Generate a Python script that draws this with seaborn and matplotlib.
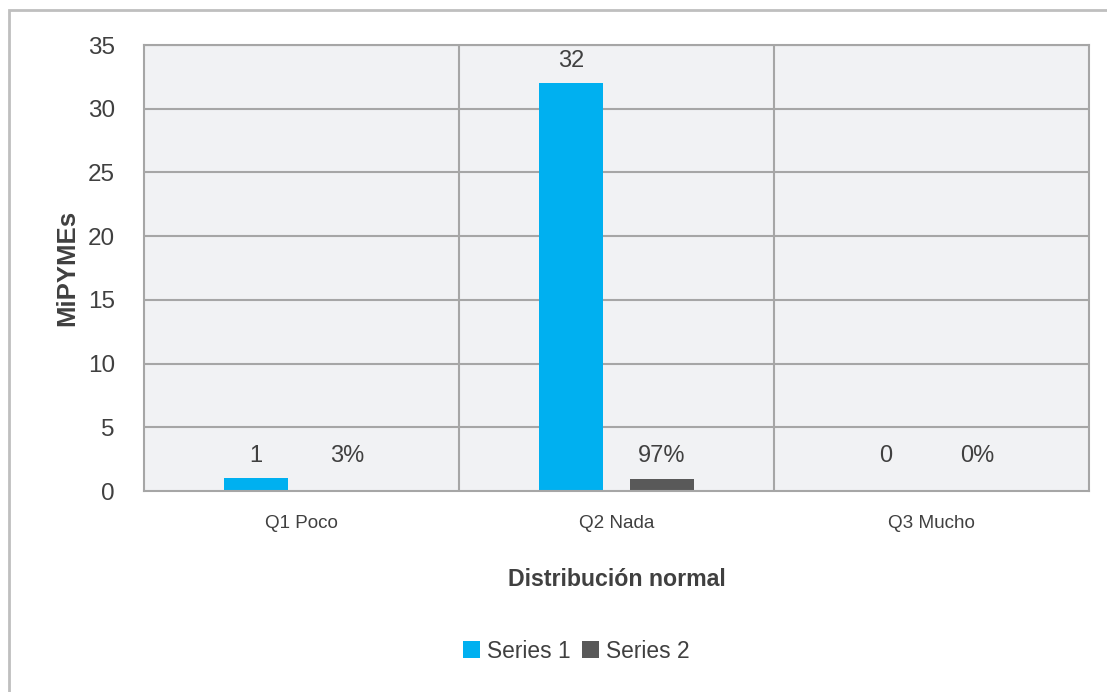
import matplotlib
matplotlib.use("Agg")
import matplotlib.pyplot as plt
from matplotlib.patches import Rectangle
import seaborn as sns
import pandas as pd

categories = ["Q1 Poco", "Q2 Nada", "Q3 Mucho"]
series_names = ["Series 1", "Series 2"]
series1 = [1, 32, 0]
series2 = [0.03, 0.97, 0]
label1 = ["1", "32", "0"]
label2 = ["3%", "97%", "0%"]

df = pd.DataFrame({
    "cat": categories * 2,
    "serie": [series_names[0]] * 3 + [series_names[1]] * 3,
    "val": series1 + series2,
    "lab": label1 + label2,
})

sns.set_theme(style="white")
plt.rcParams["font.family"] = ["Liberation Sans", "DejaVu Sans"]
text_col = "#404040"
grid_col = "#A6A6A6"

fig = plt.figure(figsize=(11.07, 6.92), dpi=100)
ax = fig.add_axes([144 / 1107, 1 - 491 / 692, (1089 - 144) / 1107, (491 - 45) / 692])
ax.set_facecolor("#F1F2F4")

palette = {"Series 1": "#00B0F0", "Series 2": "#595959"}
sns.barplot(data=df, x="cat", y="val", hue="serie", order=categories,
            hue_order=series_names, palette=palette, width=0.578, gap=0.30,
            saturation=1, ax=ax, legend=True, linewidth=0)

# value labels above each bar
for cont, labs in zip(ax.containers, [label1, label2]):
    for rect, lab in zip(cont, labs):
        x = rect.get_x() + rect.get_width() / 2
        h = max(rect.get_height(), 1)
        ax.annotate(lab, (x, h), xytext=(0, 16), textcoords="offset points",
                    ha="center", va="center", fontsize=17, color=text_col)

ax.set_ylim(0, 35)
ax.set_xlim(-0.5, 2.5)
ax.set_yticks(range(0, 36, 5))
ax.grid(False)
for y in range(5, 36, 5):
    ax.axhline(y, color=grid_col, lw=1.5, zorder=0)
for x in [0.5, 1.5]:
    ax.axvline(x, color=grid_col, lw=1.5, zorder=0)
for s in ax.spines.values():
    s.set_color(grid_col)
    s.set_linewidth(1.5)

ax.tick_params(axis="y", length=0, pad=21, labelsize=17.5, labelcolor=text_col)
ax.tick_params(axis="x", length=0, pad=17, labelsize=13.6, labelcolor=text_col)

ax.set_xlabel("Distribución normal", fontsize=16.7, fontweight="bold",
              color=text_col, labelpad=26)
ax.set_ylabel("MiPYMEs", fontsize=18.5, fontweight="bold", color=text_col,
              labelpad=6)

leg = ax.legend(loc="center", bbox_to_anchor=(576 / 1107, 1 - 651 / 692),
                bbox_transform=fig.transFigure, ncol=2, frameon=False,
                fontsize=16.4, handlelength=0.75, handleheight=0.75,
                handletextpad=0.3, columnspacing=0.5)
for t in leg.get_texts():
    t.set_color(text_col)

# outer chart frame
fig.patches.append(Rectangle((9 / 1107, -0.1), 1.2, 1 - 10 / 692 + 0.1,
                             transform=fig.transFigure, fill=False,
                             edgecolor="#BFBFBF", lw=2, zorder=-1))

fig.savefig("out.png", dpi=100)
